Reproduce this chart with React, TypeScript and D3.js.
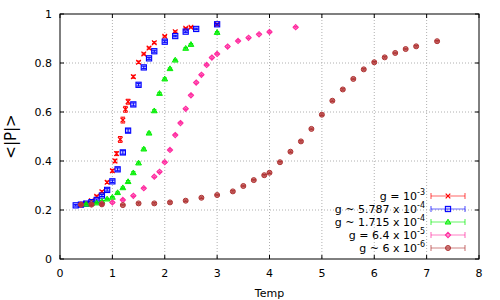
import React from "react";
import * as d3 from "d3";

// [Temp, <|P|>, error]
const g1e3: [number, number, number][] = [
  [0.4, 0.222, 0.003], [0.5, 0.228, 0.003], [0.6, 0.238, 0.003], [0.7, 0.256, 0.004],
  [0.8, 0.275, 0.004], [0.9, 0.313, 0.005], [1.0, 0.36, 0.006], [1.05, 0.40, 0.007],
  [1.08, 0.43, 0.008], [1.15, 0.488, 0.012], [1.2, 0.567, 0.012], [1.25, 0.611, 0.012],
  [1.3, 0.642, 0.01], [1.4, 0.744, 0.006], [1.5, 0.803, 0.005], [1.6, 0.837, 0.004],
  [1.7, 0.861, 0.004], [1.8, 0.883, 0.004], [2.0, 0.909, 0.003], [2.2, 0.928, 0.003],
  [2.4, 0.942, 0.003], [2.5, 0.946, 0.003], [3.0, 0.958, 0.003],
];
const g5787e4: [number, number, number][] = [
  [0.3, 0.219, 0.003], [0.4, 0.222, 0.003], [0.5, 0.226, 0.003], [0.6, 0.232, 0.003],
  [0.7, 0.241, 0.004], [0.8, 0.259, 0.004], [0.9, 0.282, 0.005], [1.0, 0.317, 0.005],
  [1.1, 0.366, 0.006], [1.2, 0.435, 0.007], [1.3, 0.524, 0.007], [1.4, 0.631, 0.006],
  [1.5, 0.711, 0.005], [1.6, 0.782, 0.005], [1.7, 0.819, 0.004], [1.8, 0.848, 0.004],
  [2.0, 0.887, 0.004], [2.2, 0.91, 0.003], [2.4, 0.928, 0.003], [2.6, 0.939, 0.003],
  [3.0, 0.958, 0.003],
];
const g1715e4: [number, number, number][] = [
  [0.5, 0.224, 0.003], [0.6, 0.226, 0.003], [0.7, 0.229, 0.003], [0.8, 0.236, 0.003],
  [0.9, 0.245, 0.003], [1.0, 0.252, 0.003], [1.1, 0.271, 0.003], [1.2, 0.291, 0.003],
  [1.3, 0.316, 0.004], [1.4, 0.352, 0.004], [1.5, 0.392, 0.004], [1.6, 0.449, 0.004],
  [1.7, 0.514, 0.004], [1.8, 0.605, 0.004], [1.9, 0.676, 0.004], [2.0, 0.735, 0.004],
  [2.1, 0.777, 0.003], [2.2, 0.812, 0.003], [2.4, 0.86, 0.003], [2.5, 0.876, 0.003],
  [3.0, 0.925, 0.003],
];
const g64e5: [number, number, number][] = [
  [0.4, 0.222, 0.003], [0.6, 0.224, 0.003], [0.8, 0.226, 0.003], [1.0, 0.231, 0.003],
  [1.2, 0.241, 0.003], [1.4, 0.258, 0.003], [1.6, 0.289, 0.003], [1.8, 0.336, 0.003],
  [1.9, 0.356, 0.003], [2.0, 0.395, 0.003], [2.1, 0.445, 0.003], [2.2, 0.506, 0.003],
  [2.3, 0.555, 0.003], [2.4, 0.613, 0.003], [2.5, 0.668, 0.003], [2.6, 0.72, 0.003],
  [2.7, 0.752, 0.003], [2.8, 0.792, 0.003], [2.9, 0.822, 0.003], [3.0, 0.837, 0.003],
  [3.2, 0.867, 0.003], [3.4, 0.89, 0.003], [3.6, 0.903, 0.003], [3.8, 0.917, 0.003],
  [4.0, 0.927, 0.003], [4.5, 0.946, 0.003],
];
const g6e6: [number, number, number][] = [
  [0.4, 0.222, 0.003], [0.6, 0.222, 0.003], [0.8, 0.223, 0.003], [1.2, 0.22, 0.003],
  [1.5, 0.227, 0.003], [1.8, 0.227, 0.003], [2.1, 0.231, 0.003], [2.4, 0.238, 0.003],
  [2.7, 0.25, 0.003], [3.0, 0.261, 0.003], [3.3, 0.276, 0.003], [3.5, 0.298, 0.003],
  [3.7, 0.322, 0.003], [3.9, 0.342, 0.003], [4.0, 0.352, 0.003], [4.2, 0.395, 0.003],
  [4.4, 0.438, 0.003], [4.6, 0.48, 0.003], [4.8, 0.531, 0.003], [5.0, 0.589, 0.003],
  [5.2, 0.646, 0.003], [5.4, 0.692, 0.003], [5.6, 0.735, 0.003], [5.8, 0.774, 0.003],
  [6.0, 0.803, 0.003], [6.2, 0.823, 0.003], [6.4, 0.841, 0.003], [6.6, 0.857, 0.003],
  [6.8, 0.868, 0.003], [7.2, 0.889, 0.003],
];

const xTicks = [0, 1, 2, 3, 4, 5, 6, 7, 8];
const yTicks = [0, 0.2, 0.4, 0.6, 0.8, 1];
const yTickLabels = ["0", "0.2", "0.4", "0.6", "0.8", "1"];

type Shape = "x" | "square" | "triangle" | "diamond" | "circle";
const series: { data: [number, number, number][]; color: string; shape: Shape; pre: string; exp: string }[] = [
  { data: g1e3, color: "#ff0000", shape: "x", pre: "g = 10", exp: "-3" },
  { data: g5787e4, color: "#0000ff", shape: "square", pre: "g ~ 5.787 x 10", exp: "-4" },
  { data: g1715e4, color: "#00ee00", shape: "triangle", pre: "g ~ 1.715 x 10", exp: "-4" },
  { data: g64e5, color: "#ff2ca0", shape: "diamond", pre: "g = 6.4 x 10", exp: "-5" },
  { data: g6e6, color: "#b03434", shape: "circle", pre: "g ~ 6 x 10", exp: "-6" },
];

const W = 500, H = 300;
const L = 60, R = 479, T = 14, B = 259;
const font = "DejaVu Sans, sans-serif";

function Marker({ x, y, shape, color }: { x: number; y: number; shape: Shape; color: string }) {
  const s = 2.3;
  switch (shape) {
    case "x":
      return <path d={`M${x - s},${y - s}L${x + s},${y + s}M${x - s},${y + s}L${x + s},${y - s}`} stroke={color} strokeWidth={1.2} fill="none" />;
    case "square":
      return <rect x={x - s - 0.3} y={y - s - 0.3} width={2 * s + 0.6} height={2 * s + 0.6} stroke={color} strokeWidth={1.1} fill={color} fillOpacity={0.2} />;
    case "triangle":
      return <path d={`M${x},${y - s - 0.5}L${x + s + 0.6},${y + s - 0.3}L${x - s - 0.6},${y + s - 0.3}Z`} stroke={color} strokeWidth={1} fill={color} fillOpacity={0.5} />;
    case "diamond":
      return <path d={`M${x},${y - s - 0.3}L${x + s + 0.3},${y}L${x},${y + s + 0.3}L${x - s - 0.3},${y}Z`} stroke={color} strokeWidth={1.1} fill={color} fillOpacity={0.3} />;
    default:
      return <circle cx={x} cy={y} r={s + 0.2} stroke={color} strokeWidth={1} fill={color} fillOpacity={0.6} />;
  }
}

export default function App() {
  const x = d3.scaleLinear().domain([0, 8]).range([L, R]);
  const y = d3.scaleLinear().domain([0, 1]).range([B, T]);
  const legendRows = series.map((_, i) => 196 + i * 13);
  return (
    <svg width={W} height={H} style={{ position: "absolute", left: 0, top: 0 }} fontFamily={font}>
      <rect width={W} height={H} fill="#fff" />
      {xTicks.slice(1, -1).map((t) => (
        <line key={"gx" + t} x1={x(t)} x2={x(t)} y1={T} y2={B} stroke="#b0b0b0" strokeWidth={1} strokeDasharray="1,2" />
      ))}
      {yTicks.slice(1, -1).map((t) => (
        <line key={"gy" + t} x1={L} x2={R} y1={y(t)} y2={y(t)} stroke="#b0b0b0" strokeWidth={1} strokeDasharray="1,2" />
      ))}
      {xTicks.map((t) => (
        <g key={"tx" + t}>
          <line x1={x(t)} x2={x(t)} y1={B} y2={B - 4} stroke="#000" />
          <line x1={x(t)} x2={x(t)} y1={T} y2={T + 4} stroke="#000" />
          <text x={x(t)} y={277} fontSize={11} textAnchor="middle" fill="#000">{t}</text>
        </g>
      ))}
      {yTicks.map((t, i) => (
        <g key={"ty" + t}>
          <line x1={L} x2={L + 4} y1={y(t)} y2={y(t)} stroke="#000" />
          <line x1={R} x2={R - 4} y1={y(t)} y2={y(t)} stroke="#000" />
          <text x={52} y={y(t) + 4} fontSize={11} textAnchor="end" fill="#000">{yTickLabels[i]}</text>
        </g>
      ))}
      <rect x={L} y={T} width={R - L} height={B - T} fill="none" stroke="#000" strokeWidth={1} />
      {series.map((s, si) => (
        <g key={"s" + si}>
          {s.data.map(([dx, dy, de], i) => {
            const px = x(dx), py = y(dy);
            const y1 = y(dy - de), y2 = y(dy + de);
            return (
              <g key={i}>
                <line x1={px} x2={px} y1={y1} y2={y2} stroke={s.color} strokeWidth={1} />
                <line x1={px - 2.2} x2={px + 2.2} y1={y1} y2={y1} stroke={s.color} strokeWidth={1} />
                <line x1={px - 2.2} x2={px + 2.2} y1={y2} y2={y2} stroke={s.color} strokeWidth={1} />
                <Marker x={px} y={py} shape={s.shape} color={s.color} />
              </g>
            );
          })}
        </g>
      ))}
      {series.map((s, i) => {
        const ly = legendRows[i];
        return (
          <g key={"l" + i}>
            <text x={425} y={ly + 4} fontSize={11} textAnchor="end" fill="#000">
              {s.pre}
              <tspan fontSize={8} dy={-5}>{s.exp}</tspan>
            </text>
            <line x1={431} x2={465} y1={ly} y2={ly} stroke={s.color} strokeOpacity={0.6} strokeWidth={1.2} />
            <line x1={431} x2={431} y1={ly - 3} y2={ly + 3} stroke={s.color} strokeOpacity={0.6} strokeWidth={1.2} />
            <line x1={465} x2={465} y1={ly - 3} y2={ly + 3} stroke={s.color} strokeOpacity={0.6} strokeWidth={1.2} />
            <Marker x={448} y={ly} shape={s.shape} color={s.color} />
          </g>
        );
      })}
      <text x={(L + R) / 2} y={297} fontSize={11} textAnchor="middle" fill="#000">Temp</text>
      <text transform={`translate(16,${(T + B) / 2}) rotate(-90)`} fontSize={15} textAnchor="middle" fill="#000">{"<|P|>"}</text>
    </svg>
  );
}
